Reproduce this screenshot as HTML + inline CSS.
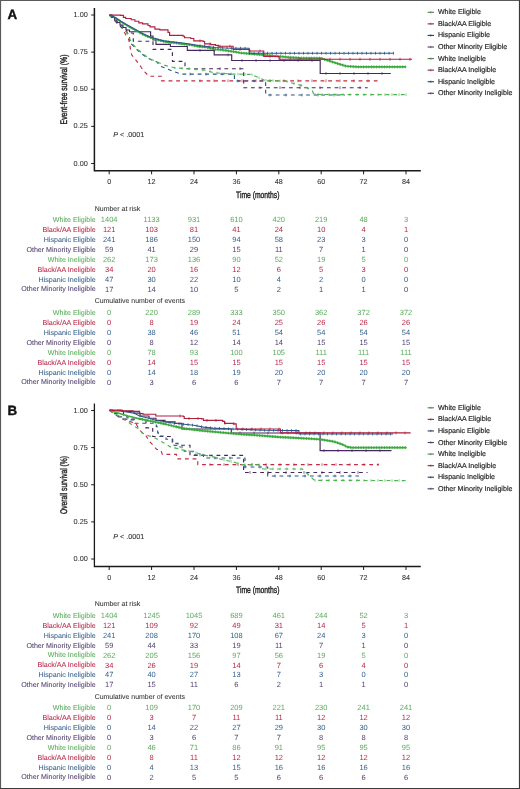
<!DOCTYPE html>
<html><head><meta charset="utf-8"><style>
html,body{margin:0;padding:0;background:#fff;}
svg{display:block;will-change:transform;filter:blur(0.3px);text-rendering:geometricPrecision;font-family:"Liberation Sans", sans-serif;}
</style></head><body>
<svg width="520" height="789" viewBox="0 0 520 789">
<rect x="0" y="0" width="520" height="789" fill="#fff"/>
<path d="M0.5,789V0.5H520" fill="none" stroke="#5a5a5a" stroke-width="1.2"/>
<path d="M0,788.5H519.5V0" fill="none" stroke="#3a3a3a" stroke-width="1.2"/>
<text x="7.6" y="18.80" font-size="13.4" font-weight="bold" fill="#111" stroke="#111" stroke-width="0.35">A</text>
<path d="M94.4,8.00V170.80H420.8" fill="none" stroke="#1a1a1a" stroke-width="1.5"/>
<path d="M91.2,163.50H94.4" stroke="#1a1a1a" stroke-width="1"/>
<text x="87.80" y="165.60" font-size="7.3" fill="#333" stroke="#333" stroke-width="0.06" text-anchor="end" >0.00</text>
<path d="M91.2,126.38H94.4" stroke="#1a1a1a" stroke-width="1"/>
<text x="87.80" y="128.47" font-size="7.3" fill="#333" stroke="#333" stroke-width="0.06" text-anchor="end" >0.25</text>
<path d="M91.2,89.25H94.4" stroke="#1a1a1a" stroke-width="1"/>
<text x="87.80" y="91.35" font-size="7.3" fill="#333" stroke="#333" stroke-width="0.06" text-anchor="end" >0.50</text>
<path d="M91.2,52.12H94.4" stroke="#1a1a1a" stroke-width="1"/>
<text x="87.80" y="54.23" font-size="7.3" fill="#333" stroke="#333" stroke-width="0.06" text-anchor="end" >0.75</text>
<path d="M91.2,15.00H94.4" stroke="#1a1a1a" stroke-width="1"/>
<text x="87.80" y="17.10" font-size="7.3" fill="#333" stroke="#333" stroke-width="0.06" text-anchor="end" >1.00</text>
<path d="M109.20,170.80V174.30" stroke="#1a1a1a" stroke-width="1"/>
<text x="109.20" y="184.20" font-size="7.2" fill="#333" stroke="#333" stroke-width="0.06" text-anchor="middle" >0</text>
<path d="M151.60,170.80V174.30" stroke="#1a1a1a" stroke-width="1"/>
<text x="151.60" y="184.20" font-size="7.2" fill="#333" stroke="#333" stroke-width="0.06" text-anchor="middle" >12</text>
<path d="M194.00,170.80V174.30" stroke="#1a1a1a" stroke-width="1"/>
<text x="194.00" y="184.20" font-size="7.2" fill="#333" stroke="#333" stroke-width="0.06" text-anchor="middle" >24</text>
<path d="M236.40,170.80V174.30" stroke="#1a1a1a" stroke-width="1"/>
<text x="236.40" y="184.20" font-size="7.2" fill="#333" stroke="#333" stroke-width="0.06" text-anchor="middle" >36</text>
<path d="M278.80,170.80V174.30" stroke="#1a1a1a" stroke-width="1"/>
<text x="278.80" y="184.20" font-size="7.2" fill="#333" stroke="#333" stroke-width="0.06" text-anchor="middle" >48</text>
<path d="M321.20,170.80V174.30" stroke="#1a1a1a" stroke-width="1"/>
<text x="321.20" y="184.20" font-size="7.2" fill="#333" stroke="#333" stroke-width="0.06" text-anchor="middle" >60</text>
<path d="M363.60,170.80V174.30" stroke="#1a1a1a" stroke-width="1"/>
<text x="363.60" y="184.20" font-size="7.2" fill="#333" stroke="#333" stroke-width="0.06" text-anchor="middle" >72</text>
<path d="M406.00,170.80V174.30" stroke="#1a1a1a" stroke-width="1"/>
<text x="406.00" y="184.20" font-size="7.2" fill="#333" stroke="#333" stroke-width="0.06" text-anchor="middle" >84</text>
<text transform="translate(257.7,197.90) scale(0.728,1)" font-size="9.3" fill="#222" stroke="#222" stroke-width="0.38" text-anchor="middle">Time (months)</text>
<text transform="translate(66.9,89.50) rotate(-90) scale(0.7210,1)" font-size="9.6" fill="#222" stroke="#222" stroke-width="0.38" text-anchor="middle">Event-free survival (%)</text>
<text x="113.2" y="136.60" font-size="7.2" fill="#333" stroke="#333" stroke-width="0.1"><tspan font-style="italic">P</tspan> &lt; .0001</text>
<path d="M109.50,15.00 L113.00,18.00 L116.00,21.00 L119.00,24.00 L121.50,27.00 L123.50,31.00 L126.00,35.00 L128.50,39.00 L129.80,44.00 L130.50,50.00 L131.80,55.00 L135.00,59.00 L138.50,63.40 L141.50,67.80 L145.00,72.20 L149.00,76.20 L161.50,76.20 L161.50,80.80 L378.50,80.80" fill="none" stroke="#c42a46" stroke-width="1.15" stroke-linejoin="round" stroke-dasharray="3.8,3.8"/>
<path d="M200.00,79.40V82.20M214.00,79.40V82.20M228.00,79.40V82.20M242.00,79.40V82.20M256.00,79.40V82.20M270.00,79.40V82.20M284.00,79.40V82.20M298.00,79.40V82.20M312.00,79.40V82.20M326.00,79.40V82.20M340.00,79.40V82.20M354.00,79.40V82.20M368.00,79.40V82.20" stroke="#c42a46" stroke-width="0.7" fill="none"/>
<path d="M109.50,15.00 L113.00,19.00 L117.00,23.00 L121.00,27.00 L126.50,29.00 L127.00,33.00 L133.30,33.00 L133.30,41.20 L153.00,41.20 L153.00,49.40 L172.40,49.40 L172.40,61.30 L185.00,61.30 L185.00,68.70 L243.70,68.70 L243.70,87.70 L367.70,87.70" fill="none" stroke="#48265f" stroke-width="1.15" stroke-linejoin="round" stroke-dasharray="3.8,3.8"/>
<path d="M220.00,67.30V70.10M240.00,67.30V70.10M260.00,86.30V89.10M280.00,86.30V89.10M300.00,86.30V89.10M320.00,86.30V89.10M340.00,86.30V89.10M360.00,86.30V89.10" stroke="#48265f" stroke-width="0.7" fill="none"/>
<path d="M109.50,15.00 L113.80,18.80 L117.60,22.70 L121.00,25.60 L124.00,29.00 L127.20,33.00 L129.50,35.00 L129.60,42.50 L133.50,46.00 L136.80,49.50 L141.70,53.80 L146.50,57.30 L151.30,59.80 L157.00,62.00 L160.00,66.00 L165.00,68.00 L172.00,71.00 L181.30,74.10 L234.40,74.10 L234.50,81.00 L265.60,81.00 L265.70,95.00 L345.00,95.00" fill="none" stroke="#2a568a" stroke-width="1.15" stroke-linejoin="round" stroke-dasharray="3.8,3.8"/>
<path d="M190.00,72.70V75.50M206.00,72.70V75.50M222.00,72.70V75.50M238.00,79.60V82.40M254.00,79.60V82.40M270.00,93.60V96.40M286.00,93.60V96.40M302.00,93.60V96.40M318.00,93.60V96.40M334.00,93.60V96.40" stroke="#2a568a" stroke-width="0.7" fill="none"/>
<path d="M109.50,15.00 L113.80,18.80 L117.60,22.70 L121.00,25.60 L124.00,29.00 L127.20,33.00 L130.00,39.50 L133.50,45.00 L136.80,48.50 L141.70,52.80 L146.50,56.50 L151.30,59.50 L157.50,62.00 L165.00,65.40 L174.80,67.90 L189.50,68.70 L205.80,70.30 L214.00,72.80 L233.60,74.10 L251.00,74.40 L264.60,80.20 L286.20,81.20 L290.80,82.70 L303.00,85.80 L312.30,90.40 L313.80,94.40 L340.00,94.60 L406.20,94.60" fill="none" stroke="#4cb44c" stroke-width="1.15" stroke-linejoin="round" stroke-dasharray="3.8,3.8"/>
<path d="M175.00,66.61V69.21M182.00,66.99V69.59M189.00,67.37V69.97M196.00,68.04V70.64M203.00,68.73V71.33M210.00,70.28V72.88M217.00,71.70V74.30M224.00,72.16V74.76M231.00,72.63V75.23M238.00,72.88V75.48M245.00,73.00V75.60M252.00,73.53V76.13M259.00,76.51V79.11M266.00,78.96V81.56M273.00,79.29V81.89M280.00,79.61V82.21M287.00,80.16V82.76M294.00,82.21V84.81M301.00,83.99V86.59M308.00,86.97V89.57M315.00,93.11V95.71M322.00,93.16V95.76M329.00,93.22V95.82M336.00,93.27V95.87M343.00,93.30V95.90M350.00,93.30V95.90M357.00,93.30V95.90M364.00,93.30V95.90M371.00,93.30V95.90M378.00,93.30V95.90M385.00,93.30V95.90M392.00,93.30V95.90M399.00,93.30V95.90M406.00,93.30V95.90" stroke="#4cb44c" stroke-width="0.7" fill="none"/>
<path d="M109.50,15.00H112.00V17.50H114.50V20.00H117.00V22.50H120.00V25.00H123.00V27.50H126.00V30.00H129.50V31.70H150.60V36.00H153.00V40.00H156.00V44.30H170.40V46.50H187.30V50.40H214.20V54.90H231.70V60.50H320.20V73.50H390.80V73.50" fill="none" stroke="#48265f" stroke-width="1.15"/>
<path d="M200.00,49.00V51.80M214.00,49.00V51.80M228.00,53.50V56.30M242.00,59.10V61.90M256.00,59.10V61.90M270.00,59.10V61.90M284.00,59.10V61.90M298.00,59.10V61.90M312.00,59.10V61.90M326.00,72.10V74.90M340.00,72.10V74.90M354.00,72.10V74.90M368.00,72.10V74.90M382.00,72.10V74.90" stroke="#48265f" stroke-width="0.7" fill="none"/>
<path d="M109.50,15.00 L112.00,16.00 L115.80,18.00 L121.20,21.90 L126.50,25.20 L131.10,28.00 L137.30,31.30 L142.70,34.30 L148.10,36.70 L153.50,38.60 L158.80,40.20 L164.20,41.50 L169.60,42.30 L175.40,42.90 L182.70,44.00 L190.80,44.90 L199.00,46.60 L206.20,47.20 L215.40,49.30 L221.50,49.90 L235.00,51.80 L240.00,52.80 L262.50,54.80 L290.00,57.30 L300.00,58.00 L320.80,58.20 L334.60,62.70 L346.20,66.20 L357.70,66.90 L406.20,66.90" fill="none" stroke="#3fb03f" stroke-width="1.8" stroke-linejoin="round"/>
<path d="M140.00,31.30V34.30M142.60,32.74V35.74M145.20,33.91V36.91M147.80,35.07V38.07M150.40,36.01V39.01M153.00,36.92V39.92M155.60,37.73V40.73M158.20,38.52V41.52M160.80,39.18V42.18M163.40,39.81V42.81M166.00,40.27V43.27M168.60,40.65V43.65M171.20,40.97V43.97M173.80,41.23V44.23M176.40,41.55V44.55M179.00,41.94V44.94M181.60,42.33V45.33M184.20,42.67V45.67M186.80,42.96V45.96M189.40,43.24V46.24M192.00,43.65V46.65M194.60,44.19V47.19M197.20,44.73V47.73M199.80,45.17V48.17M202.40,45.38V48.38M205.00,45.60V48.60M207.60,46.02V49.02M210.20,46.61V49.61M212.80,47.21V50.21M215.40,47.80V50.80M218.00,48.06V51.06M220.60,48.31V51.31M223.20,48.64V51.64M225.80,49.01V52.01M228.40,49.37V52.37M231.00,49.74V52.74M233.60,50.10V53.10M236.20,50.54V53.54M238.80,51.06V54.06M241.40,51.42V54.42M244.00,51.66V54.66M246.60,51.89V54.89M249.20,52.12V55.12M251.80,52.35V55.35M254.40,52.58V55.58M257.00,52.81V55.81M259.60,53.04V56.04M262.20,53.27V56.27M264.80,53.51V56.51M267.40,53.75V56.75M270.00,53.98V56.98M272.60,54.22V57.22M275.20,54.45V57.45M277.80,54.69V57.69M280.40,54.93V57.93M283.00,55.16V58.16M285.60,55.40V58.40M288.20,55.64V58.64M290.80,55.86V58.86M293.40,56.04V59.04M296.00,56.22V59.22M298.60,56.40V59.40M301.20,56.51V59.51M303.80,56.54V59.54M306.40,56.56V59.56M309.00,56.59V59.59M311.60,56.61V59.61M314.20,56.64V59.64M316.80,56.66V59.66M319.40,56.69V59.69M322.00,57.09V60.09M324.60,57.94V60.94M327.20,58.79V61.79M329.80,59.63V62.63M332.40,60.48V63.48M335.00,61.32V64.32M337.60,62.11V65.11M340.20,62.89V65.89M342.80,63.67V66.67M345.40,64.46V67.46M348.00,64.81V67.81M350.60,64.97V67.97M353.20,65.13V68.13M355.80,65.28V68.28M358.40,65.40V68.40M361.00,65.40V68.40M363.60,65.40V68.40M366.20,65.40V68.40M368.80,65.40V68.40M371.40,65.40V68.40M374.00,65.40V68.40M376.60,65.40V68.40M379.20,65.40V68.40M381.80,65.40V68.40M384.40,65.40V68.40M387.00,65.40V68.40M389.60,65.40V68.40M392.20,65.40V68.40M394.80,65.40V68.40M397.40,65.40V68.40M400.00,65.40V68.40M402.60,65.40V68.40M405.20,65.40V68.40" stroke="#36a03a" stroke-width="0.8" fill="none"/>
<path d="M109.50,15.00 L115.00,17.50 L121.00,21.30 L126.50,24.60 L132.00,27.50 L137.30,30.50 L142.70,33.50 L148.10,36.00 L153.50,38.00 L158.80,39.60 L164.20,40.80 L170.00,41.60 L182.70,43.00 L199.00,45.50 L215.40,47.50 L230.80,48.20 L249.20,48.20 L249.30,53.20 L393.80,53.20" fill="none" stroke="#2a568a" stroke-width="1.15" stroke-linejoin="round"/>
<path d="M200.00,44.22V47.02M204.50,44.77V47.57M209.00,45.32V48.12M213.50,45.87V48.67M218.00,46.22V49.02M222.50,46.42V49.22M227.00,46.63V49.43M231.50,46.80V49.60M236.00,46.80V49.60M240.50,46.80V49.60M245.00,46.80V49.60M249.50,51.80V54.60M254.00,51.80V54.60M258.50,51.80V54.60M263.00,51.80V54.60M267.50,51.80V54.60M272.00,51.80V54.60M276.50,51.80V54.60M281.00,51.80V54.60M285.50,51.80V54.60M290.00,51.80V54.60M294.50,51.80V54.60M299.00,51.80V54.60M303.50,51.80V54.60M308.00,51.80V54.60M312.50,51.80V54.60M317.00,51.80V54.60M321.50,51.80V54.60M326.00,51.80V54.60M330.50,51.80V54.60M335.00,51.80V54.60M339.50,51.80V54.60M344.00,51.80V54.60M348.50,51.80V54.60M353.00,51.80V54.60M357.50,51.80V54.60M362.00,51.80V54.60M366.50,51.80V54.60M371.00,51.80V54.60M375.50,51.80V54.60M380.00,51.80V54.60M384.50,51.80V54.60M389.00,51.80V54.60M393.50,51.80V54.60" stroke="#2a568a" stroke-width="0.8" fill="none"/>
<path d="M109.50,15.10H120.50V15.40H123.40V17.40H125.70V18.50H131.10V19.70H134.90V21.20H138.80V22.80H142.60V23.90H148.00V25.50H150.00V26.80H154.90V29.10H159.80V29.90H168.00V32.40H169.60V35.40H183.10V36.20H184.60V37.70H190.80V38.50H193.80V40.80H203.10V41.50H204.60V43.80H210.80V44.60H215.40V45.40H218.50V46.20H233.00V46.20H233.10V49.50H249.20V49.50H249.30V51.00H263.60V51.00H263.70V56.50H279.00V56.50H279.10V59.20H412.00V59.20" fill="none" stroke="#b01f3e" stroke-width="1.15"/>
<path d="M200.00,39.40V42.20M210.00,42.40V45.20M220.00,44.80V47.60M230.00,44.80V47.60M240.00,48.10V50.90M250.00,49.60V52.40M260.00,49.60V52.40M270.00,55.10V57.90M280.00,57.80V60.60M290.00,57.80V60.60M300.00,57.80V60.60M310.00,57.80V60.60M320.00,57.80V60.60M330.00,57.80V60.60M340.00,57.80V60.60M350.00,57.80V60.60M360.00,57.80V60.60M370.00,57.80V60.60M380.00,57.80V60.60M390.00,57.80V60.60M400.00,57.80V60.60M410.00,57.80V60.60" stroke="#b01f3e" stroke-width="0.8" fill="none"/>
<path d="M427.6,12.30H434" stroke="#4f7f4f" stroke-width="1.1"/><path d="M430.8,11.10V13.50" stroke="#4f7f4f" stroke-width="0.6"/>
<text x="437.90" y="14.30" font-size="7.1" fill="#222" stroke="#222" stroke-width="0.16" text-anchor="start" >White Eligible</text>
<path d="M427.6,23.87H434" stroke="#8a2a45" stroke-width="1.1"/><path d="M430.8,22.67V25.07" stroke="#8a2a45" stroke-width="0.6"/>
<text x="437.90" y="25.87" font-size="7.1" fill="#222" stroke="#222" stroke-width="0.16" text-anchor="start" >Black/AA Eligible</text>
<path d="M427.6,35.44H434" stroke="#2a3f5f" stroke-width="1.1"/><path d="M430.8,34.24V36.64" stroke="#2a3f5f" stroke-width="0.6"/>
<text x="437.90" y="37.44" font-size="7.1" fill="#222" stroke="#222" stroke-width="0.16" text-anchor="start" >Hispanic Eligible</text>
<path d="M427.6,47.01H434" stroke="#523a68" stroke-width="1.1"/><path d="M430.8,45.81V48.21" stroke="#523a68" stroke-width="0.6"/>
<text x="437.90" y="49.01" font-size="7.1" fill="#222" stroke="#222" stroke-width="0.16" text-anchor="start" >Other Minority Eligible</text>
<path d="M427.6,58.58H434" stroke="#4f7f4f" stroke-width="1.1"/><path d="M430.8,57.38V59.78" stroke="#4f7f4f" stroke-width="0.6"/>
<text x="437.90" y="60.58" font-size="7.1" fill="#222" stroke="#222" stroke-width="0.16" text-anchor="start" >White Ineligible</text>
<path d="M427.6,70.15H434" stroke="#8a2a45" stroke-width="1.1"/><path d="M430.8,68.95V71.35" stroke="#8a2a45" stroke-width="0.6"/>
<text x="437.90" y="72.15" font-size="7.1" fill="#222" stroke="#222" stroke-width="0.16" text-anchor="start" >Black/AA Ineligible</text>
<path d="M427.6,81.72H434" stroke="#2a3f5f" stroke-width="1.1"/><path d="M430.8,80.52V82.92" stroke="#2a3f5f" stroke-width="0.6"/>
<text x="437.90" y="83.72" font-size="7.1" fill="#222" stroke="#222" stroke-width="0.16" text-anchor="start" >Hispanic Ineligible</text>
<path d="M427.6,93.29H434" stroke="#523a68" stroke-width="1.1"/><path d="M430.8,92.09V94.49" stroke="#523a68" stroke-width="0.6"/>
<text x="437.90" y="95.29" font-size="7.1" fill="#222" stroke="#222" stroke-width="0.16" text-anchor="start" >Other Minority Ineligible</text>
<text x="94.70" y="210.70" font-size="7.0" fill="#333" stroke="#333" stroke-width="0.06" text-anchor="start" >Number at risk</text>
<text x="95.80" y="222.30" font-size="7.1" fill="#5aab5a" stroke="#5aab5a" stroke-width="0.06" text-anchor="end" >White Eligible</text>
<text x="109.20" y="222.45" font-size="7.5" fill="#5aab5a" stroke="#5aab5a" stroke-width="0" text-anchor="middle" >1404</text>
<text x="151.60" y="222.45" font-size="7.5" fill="#5aab5a" stroke="#5aab5a" stroke-width="0" text-anchor="middle" >1133</text>
<text x="194.00" y="222.45" font-size="7.5" fill="#5aab5a" stroke="#5aab5a" stroke-width="0" text-anchor="middle" >931</text>
<text x="236.40" y="222.45" font-size="7.5" fill="#5aab5a" stroke="#5aab5a" stroke-width="0" text-anchor="middle" >610</text>
<text x="278.80" y="222.45" font-size="7.5" fill="#5aab5a" stroke="#5aab5a" stroke-width="0" text-anchor="middle" >420</text>
<text x="321.20" y="222.45" font-size="7.5" fill="#5aab5a" stroke="#5aab5a" stroke-width="0" text-anchor="middle" >219</text>
<text x="363.60" y="222.45" font-size="7.5" fill="#5aab5a" stroke="#5aab5a" stroke-width="0" text-anchor="middle" >48</text>
<text x="406.00" y="222.45" font-size="7.5" fill="#5aab5a" stroke="#5aab5a" stroke-width="0" text-anchor="middle" >3</text>
<text x="95.80" y="232.17" font-size="7.1" fill="#b92648" stroke="#b92648" stroke-width="0.06" text-anchor="end" >Black/AA Eligible</text>
<text x="109.20" y="232.32" font-size="7.5" fill="#b92648" stroke="#b92648" stroke-width="0" text-anchor="middle" >121</text>
<text x="151.60" y="232.32" font-size="7.5" fill="#b92648" stroke="#b92648" stroke-width="0" text-anchor="middle" >103</text>
<text x="194.00" y="232.32" font-size="7.5" fill="#b92648" stroke="#b92648" stroke-width="0" text-anchor="middle" >81</text>
<text x="236.40" y="232.32" font-size="7.5" fill="#b92648" stroke="#b92648" stroke-width="0" text-anchor="middle" >41</text>
<text x="278.80" y="232.32" font-size="7.5" fill="#b92648" stroke="#b92648" stroke-width="0" text-anchor="middle" >24</text>
<text x="321.20" y="232.32" font-size="7.5" fill="#b92648" stroke="#b92648" stroke-width="0" text-anchor="middle" >10</text>
<text x="363.60" y="232.32" font-size="7.5" fill="#b92648" stroke="#b92648" stroke-width="0" text-anchor="middle" >4</text>
<text x="406.00" y="232.32" font-size="7.5" fill="#b92648" stroke="#b92648" stroke-width="0" text-anchor="middle" >1</text>
<text x="95.80" y="242.04" font-size="7.1" fill="#345e8c" stroke="#345e8c" stroke-width="0.06" text-anchor="end" >Hispanic Eligible</text>
<text x="109.20" y="242.19" font-size="7.5" fill="#345e8c" stroke="#345e8c" stroke-width="0" text-anchor="middle" >241</text>
<text x="151.60" y="242.19" font-size="7.5" fill="#345e8c" stroke="#345e8c" stroke-width="0" text-anchor="middle" >186</text>
<text x="194.00" y="242.19" font-size="7.5" fill="#345e8c" stroke="#345e8c" stroke-width="0" text-anchor="middle" >150</text>
<text x="236.40" y="242.19" font-size="7.5" fill="#345e8c" stroke="#345e8c" stroke-width="0" text-anchor="middle" >94</text>
<text x="278.80" y="242.19" font-size="7.5" fill="#345e8c" stroke="#345e8c" stroke-width="0" text-anchor="middle" >58</text>
<text x="321.20" y="242.19" font-size="7.5" fill="#345e8c" stroke="#345e8c" stroke-width="0" text-anchor="middle" >23</text>
<text x="363.60" y="242.19" font-size="7.5" fill="#345e8c" stroke="#345e8c" stroke-width="0" text-anchor="middle" >3</text>
<text x="406.00" y="242.19" font-size="7.5" fill="#345e8c" stroke="#345e8c" stroke-width="0" text-anchor="middle" >0</text>
<text x="95.80" y="251.91" font-size="7.1" fill="#51406f" stroke="#51406f" stroke-width="0.06" text-anchor="end" >Other Minority Eligible</text>
<text x="109.20" y="252.06" font-size="7.5" fill="#51406f" stroke="#51406f" stroke-width="0" text-anchor="middle" >59</text>
<text x="151.60" y="252.06" font-size="7.5" fill="#51406f" stroke="#51406f" stroke-width="0" text-anchor="middle" >41</text>
<text x="194.00" y="252.06" font-size="7.5" fill="#51406f" stroke="#51406f" stroke-width="0" text-anchor="middle" >29</text>
<text x="236.40" y="252.06" font-size="7.5" fill="#51406f" stroke="#51406f" stroke-width="0" text-anchor="middle" >15</text>
<text x="278.80" y="252.06" font-size="7.5" fill="#51406f" stroke="#51406f" stroke-width="0" text-anchor="middle" >11</text>
<text x="321.20" y="252.06" font-size="7.5" fill="#51406f" stroke="#51406f" stroke-width="0" text-anchor="middle" >7</text>
<text x="363.60" y="252.06" font-size="7.5" fill="#51406f" stroke="#51406f" stroke-width="0" text-anchor="middle" >1</text>
<text x="406.00" y="252.06" font-size="7.5" fill="#51406f" stroke="#51406f" stroke-width="0" text-anchor="middle" >0</text>
<text x="95.80" y="261.78" font-size="7.1" fill="#5aab5a" stroke="#5aab5a" stroke-width="0.06" text-anchor="end" >White Ineligible</text>
<text x="109.20" y="261.93" font-size="7.5" fill="#5aab5a" stroke="#5aab5a" stroke-width="0" text-anchor="middle" >262</text>
<text x="151.60" y="261.93" font-size="7.5" fill="#5aab5a" stroke="#5aab5a" stroke-width="0" text-anchor="middle" >173</text>
<text x="194.00" y="261.93" font-size="7.5" fill="#5aab5a" stroke="#5aab5a" stroke-width="0" text-anchor="middle" >136</text>
<text x="236.40" y="261.93" font-size="7.5" fill="#5aab5a" stroke="#5aab5a" stroke-width="0" text-anchor="middle" >90</text>
<text x="278.80" y="261.93" font-size="7.5" fill="#5aab5a" stroke="#5aab5a" stroke-width="0" text-anchor="middle" >52</text>
<text x="321.20" y="261.93" font-size="7.5" fill="#5aab5a" stroke="#5aab5a" stroke-width="0" text-anchor="middle" >19</text>
<text x="363.60" y="261.93" font-size="7.5" fill="#5aab5a" stroke="#5aab5a" stroke-width="0" text-anchor="middle" >5</text>
<text x="406.00" y="261.93" font-size="7.5" fill="#5aab5a" stroke="#5aab5a" stroke-width="0" text-anchor="middle" >0</text>
<text x="95.80" y="271.65" font-size="7.1" fill="#b92648" stroke="#b92648" stroke-width="0.06" text-anchor="end" >Black/AA Ineligible</text>
<text x="109.20" y="271.80" font-size="7.5" fill="#b92648" stroke="#b92648" stroke-width="0" text-anchor="middle" >34</text>
<text x="151.60" y="271.80" font-size="7.5" fill="#b92648" stroke="#b92648" stroke-width="0" text-anchor="middle" >20</text>
<text x="194.00" y="271.80" font-size="7.5" fill="#b92648" stroke="#b92648" stroke-width="0" text-anchor="middle" >16</text>
<text x="236.40" y="271.80" font-size="7.5" fill="#b92648" stroke="#b92648" stroke-width="0" text-anchor="middle" >12</text>
<text x="278.80" y="271.80" font-size="7.5" fill="#b92648" stroke="#b92648" stroke-width="0" text-anchor="middle" >6</text>
<text x="321.20" y="271.80" font-size="7.5" fill="#b92648" stroke="#b92648" stroke-width="0" text-anchor="middle" >5</text>
<text x="363.60" y="271.80" font-size="7.5" fill="#b92648" stroke="#b92648" stroke-width="0" text-anchor="middle" >3</text>
<text x="406.00" y="271.80" font-size="7.5" fill="#b92648" stroke="#b92648" stroke-width="0" text-anchor="middle" >0</text>
<text x="95.80" y="281.52" font-size="7.1" fill="#345e8c" stroke="#345e8c" stroke-width="0.06" text-anchor="end" >Hispanic Ineligible</text>
<text x="109.20" y="281.67" font-size="7.5" fill="#345e8c" stroke="#345e8c" stroke-width="0" text-anchor="middle" >47</text>
<text x="151.60" y="281.67" font-size="7.5" fill="#345e8c" stroke="#345e8c" stroke-width="0" text-anchor="middle" >30</text>
<text x="194.00" y="281.67" font-size="7.5" fill="#345e8c" stroke="#345e8c" stroke-width="0" text-anchor="middle" >22</text>
<text x="236.40" y="281.67" font-size="7.5" fill="#345e8c" stroke="#345e8c" stroke-width="0" text-anchor="middle" >10</text>
<text x="278.80" y="281.67" font-size="7.5" fill="#345e8c" stroke="#345e8c" stroke-width="0" text-anchor="middle" >4</text>
<text x="321.20" y="281.67" font-size="7.5" fill="#345e8c" stroke="#345e8c" stroke-width="0" text-anchor="middle" >2</text>
<text x="363.60" y="281.67" font-size="7.5" fill="#345e8c" stroke="#345e8c" stroke-width="0" text-anchor="middle" >0</text>
<text x="406.00" y="281.67" font-size="7.5" fill="#345e8c" stroke="#345e8c" stroke-width="0" text-anchor="middle" >0</text>
<text x="95.80" y="291.39" font-size="7.1" fill="#51406f" stroke="#51406f" stroke-width="0.06" text-anchor="end" >Other Minority Ineligible</text>
<text x="109.20" y="291.54" font-size="7.5" fill="#51406f" stroke="#51406f" stroke-width="0" text-anchor="middle" >17</text>
<text x="151.60" y="291.54" font-size="7.5" fill="#51406f" stroke="#51406f" stroke-width="0" text-anchor="middle" >14</text>
<text x="194.00" y="291.54" font-size="7.5" fill="#51406f" stroke="#51406f" stroke-width="0" text-anchor="middle" >10</text>
<text x="236.40" y="291.54" font-size="7.5" fill="#51406f" stroke="#51406f" stroke-width="0" text-anchor="middle" >5</text>
<text x="278.80" y="291.54" font-size="7.5" fill="#51406f" stroke="#51406f" stroke-width="0" text-anchor="middle" >2</text>
<text x="321.20" y="291.54" font-size="7.5" fill="#51406f" stroke="#51406f" stroke-width="0" text-anchor="middle" >1</text>
<text x="363.60" y="291.54" font-size="7.5" fill="#51406f" stroke="#51406f" stroke-width="0" text-anchor="middle" >1</text>
<text x="406.00" y="291.54" font-size="7.5" fill="#51406f" stroke="#51406f" stroke-width="0" text-anchor="middle" >0</text>
<text x="94.70" y="303.10" font-size="6.95" fill="#333" stroke="#333" stroke-width="0.06" text-anchor="start" >Cumulative number of events</text>
<text x="95.80" y="315.30" font-size="7.1" fill="#5aab5a" stroke="#5aab5a" stroke-width="0.06" text-anchor="end" >White Eligible</text>
<text x="109.20" y="315.45" font-size="7.5" fill="#5aab5a" stroke="#5aab5a" stroke-width="0" text-anchor="middle" >0</text>
<text x="151.60" y="315.45" font-size="7.5" fill="#5aab5a" stroke="#5aab5a" stroke-width="0" text-anchor="middle" >220</text>
<text x="194.00" y="315.45" font-size="7.5" fill="#5aab5a" stroke="#5aab5a" stroke-width="0" text-anchor="middle" >289</text>
<text x="236.40" y="315.45" font-size="7.5" fill="#5aab5a" stroke="#5aab5a" stroke-width="0" text-anchor="middle" >333</text>
<text x="278.80" y="315.45" font-size="7.5" fill="#5aab5a" stroke="#5aab5a" stroke-width="0" text-anchor="middle" >350</text>
<text x="321.20" y="315.45" font-size="7.5" fill="#5aab5a" stroke="#5aab5a" stroke-width="0" text-anchor="middle" >362</text>
<text x="363.60" y="315.45" font-size="7.5" fill="#5aab5a" stroke="#5aab5a" stroke-width="0" text-anchor="middle" >372</text>
<text x="406.00" y="315.45" font-size="7.5" fill="#5aab5a" stroke="#5aab5a" stroke-width="0" text-anchor="middle" >372</text>
<text x="95.80" y="325.17" font-size="7.1" fill="#b92648" stroke="#b92648" stroke-width="0.06" text-anchor="end" >Black/AA Eligible</text>
<text x="109.20" y="325.32" font-size="7.5" fill="#b92648" stroke="#b92648" stroke-width="0" text-anchor="middle" >0</text>
<text x="151.60" y="325.32" font-size="7.5" fill="#b92648" stroke="#b92648" stroke-width="0" text-anchor="middle" >8</text>
<text x="194.00" y="325.32" font-size="7.5" fill="#b92648" stroke="#b92648" stroke-width="0" text-anchor="middle" >19</text>
<text x="236.40" y="325.32" font-size="7.5" fill="#b92648" stroke="#b92648" stroke-width="0" text-anchor="middle" >24</text>
<text x="278.80" y="325.32" font-size="7.5" fill="#b92648" stroke="#b92648" stroke-width="0" text-anchor="middle" >25</text>
<text x="321.20" y="325.32" font-size="7.5" fill="#b92648" stroke="#b92648" stroke-width="0" text-anchor="middle" >26</text>
<text x="363.60" y="325.32" font-size="7.5" fill="#b92648" stroke="#b92648" stroke-width="0" text-anchor="middle" >26</text>
<text x="406.00" y="325.32" font-size="7.5" fill="#b92648" stroke="#b92648" stroke-width="0" text-anchor="middle" >26</text>
<text x="95.80" y="335.04" font-size="7.1" fill="#345e8c" stroke="#345e8c" stroke-width="0.06" text-anchor="end" >Hispanic Eligible</text>
<text x="109.20" y="335.19" font-size="7.5" fill="#345e8c" stroke="#345e8c" stroke-width="0" text-anchor="middle" >0</text>
<text x="151.60" y="335.19" font-size="7.5" fill="#345e8c" stroke="#345e8c" stroke-width="0" text-anchor="middle" >38</text>
<text x="194.00" y="335.19" font-size="7.5" fill="#345e8c" stroke="#345e8c" stroke-width="0" text-anchor="middle" >46</text>
<text x="236.40" y="335.19" font-size="7.5" fill="#345e8c" stroke="#345e8c" stroke-width="0" text-anchor="middle" >51</text>
<text x="278.80" y="335.19" font-size="7.5" fill="#345e8c" stroke="#345e8c" stroke-width="0" text-anchor="middle" >54</text>
<text x="321.20" y="335.19" font-size="7.5" fill="#345e8c" stroke="#345e8c" stroke-width="0" text-anchor="middle" >54</text>
<text x="363.60" y="335.19" font-size="7.5" fill="#345e8c" stroke="#345e8c" stroke-width="0" text-anchor="middle" >54</text>
<text x="406.00" y="335.19" font-size="7.5" fill="#345e8c" stroke="#345e8c" stroke-width="0" text-anchor="middle" >54</text>
<text x="95.80" y="344.91" font-size="7.1" fill="#51406f" stroke="#51406f" stroke-width="0.06" text-anchor="end" >Other Minority Eligible</text>
<text x="109.20" y="345.06" font-size="7.5" fill="#51406f" stroke="#51406f" stroke-width="0" text-anchor="middle" >0</text>
<text x="151.60" y="345.06" font-size="7.5" fill="#51406f" stroke="#51406f" stroke-width="0" text-anchor="middle" >8</text>
<text x="194.00" y="345.06" font-size="7.5" fill="#51406f" stroke="#51406f" stroke-width="0" text-anchor="middle" >12</text>
<text x="236.40" y="345.06" font-size="7.5" fill="#51406f" stroke="#51406f" stroke-width="0" text-anchor="middle" >14</text>
<text x="278.80" y="345.06" font-size="7.5" fill="#51406f" stroke="#51406f" stroke-width="0" text-anchor="middle" >14</text>
<text x="321.20" y="345.06" font-size="7.5" fill="#51406f" stroke="#51406f" stroke-width="0" text-anchor="middle" >15</text>
<text x="363.60" y="345.06" font-size="7.5" fill="#51406f" stroke="#51406f" stroke-width="0" text-anchor="middle" >15</text>
<text x="406.00" y="345.06" font-size="7.5" fill="#51406f" stroke="#51406f" stroke-width="0" text-anchor="middle" >15</text>
<text x="95.80" y="354.78" font-size="7.1" fill="#5aab5a" stroke="#5aab5a" stroke-width="0.06" text-anchor="end" >White Ineligible</text>
<text x="109.20" y="354.93" font-size="7.5" fill="#5aab5a" stroke="#5aab5a" stroke-width="0" text-anchor="middle" >0</text>
<text x="151.60" y="354.93" font-size="7.5" fill="#5aab5a" stroke="#5aab5a" stroke-width="0" text-anchor="middle" >78</text>
<text x="194.00" y="354.93" font-size="7.5" fill="#5aab5a" stroke="#5aab5a" stroke-width="0" text-anchor="middle" >93</text>
<text x="236.40" y="354.93" font-size="7.5" fill="#5aab5a" stroke="#5aab5a" stroke-width="0" text-anchor="middle" >100</text>
<text x="278.80" y="354.93" font-size="7.5" fill="#5aab5a" stroke="#5aab5a" stroke-width="0" text-anchor="middle" >105</text>
<text x="321.20" y="354.93" font-size="7.5" fill="#5aab5a" stroke="#5aab5a" stroke-width="0" text-anchor="middle" >111</text>
<text x="363.60" y="354.93" font-size="7.5" fill="#5aab5a" stroke="#5aab5a" stroke-width="0" text-anchor="middle" >111</text>
<text x="406.00" y="354.93" font-size="7.5" fill="#5aab5a" stroke="#5aab5a" stroke-width="0" text-anchor="middle" >111</text>
<text x="95.80" y="364.65" font-size="7.1" fill="#b92648" stroke="#b92648" stroke-width="0.06" text-anchor="end" >Black/AA Ineligible</text>
<text x="109.20" y="364.80" font-size="7.5" fill="#b92648" stroke="#b92648" stroke-width="0" text-anchor="middle" >0</text>
<text x="151.60" y="364.80" font-size="7.5" fill="#b92648" stroke="#b92648" stroke-width="0" text-anchor="middle" >14</text>
<text x="194.00" y="364.80" font-size="7.5" fill="#b92648" stroke="#b92648" stroke-width="0" text-anchor="middle" >15</text>
<text x="236.40" y="364.80" font-size="7.5" fill="#b92648" stroke="#b92648" stroke-width="0" text-anchor="middle" >15</text>
<text x="278.80" y="364.80" font-size="7.5" fill="#b92648" stroke="#b92648" stroke-width="0" text-anchor="middle" >15</text>
<text x="321.20" y="364.80" font-size="7.5" fill="#b92648" stroke="#b92648" stroke-width="0" text-anchor="middle" >15</text>
<text x="363.60" y="364.80" font-size="7.5" fill="#b92648" stroke="#b92648" stroke-width="0" text-anchor="middle" >15</text>
<text x="406.00" y="364.80" font-size="7.5" fill="#b92648" stroke="#b92648" stroke-width="0" text-anchor="middle" >15</text>
<text x="95.80" y="374.52" font-size="7.1" fill="#345e8c" stroke="#345e8c" stroke-width="0.06" text-anchor="end" >Hispanic Ineligible</text>
<text x="109.20" y="374.67" font-size="7.5" fill="#345e8c" stroke="#345e8c" stroke-width="0" text-anchor="middle" >0</text>
<text x="151.60" y="374.67" font-size="7.5" fill="#345e8c" stroke="#345e8c" stroke-width="0" text-anchor="middle" >14</text>
<text x="194.00" y="374.67" font-size="7.5" fill="#345e8c" stroke="#345e8c" stroke-width="0" text-anchor="middle" >18</text>
<text x="236.40" y="374.67" font-size="7.5" fill="#345e8c" stroke="#345e8c" stroke-width="0" text-anchor="middle" >19</text>
<text x="278.80" y="374.67" font-size="7.5" fill="#345e8c" stroke="#345e8c" stroke-width="0" text-anchor="middle" >20</text>
<text x="321.20" y="374.67" font-size="7.5" fill="#345e8c" stroke="#345e8c" stroke-width="0" text-anchor="middle" >20</text>
<text x="363.60" y="374.67" font-size="7.5" fill="#345e8c" stroke="#345e8c" stroke-width="0" text-anchor="middle" >20</text>
<text x="406.00" y="374.67" font-size="7.5" fill="#345e8c" stroke="#345e8c" stroke-width="0" text-anchor="middle" >20</text>
<text x="95.80" y="384.39" font-size="7.1" fill="#51406f" stroke="#51406f" stroke-width="0.06" text-anchor="end" >Other Minority Ineligible</text>
<text x="109.20" y="384.54" font-size="7.5" fill="#51406f" stroke="#51406f" stroke-width="0" text-anchor="middle" >0</text>
<text x="151.60" y="384.54" font-size="7.5" fill="#51406f" stroke="#51406f" stroke-width="0" text-anchor="middle" >3</text>
<text x="194.00" y="384.54" font-size="7.5" fill="#51406f" stroke="#51406f" stroke-width="0" text-anchor="middle" >6</text>
<text x="236.40" y="384.54" font-size="7.5" fill="#51406f" stroke="#51406f" stroke-width="0" text-anchor="middle" >6</text>
<text x="278.80" y="384.54" font-size="7.5" fill="#51406f" stroke="#51406f" stroke-width="0" text-anchor="middle" >7</text>
<text x="321.20" y="384.54" font-size="7.5" fill="#51406f" stroke="#51406f" stroke-width="0" text-anchor="middle" >7</text>
<text x="363.60" y="384.54" font-size="7.5" fill="#51406f" stroke="#51406f" stroke-width="0" text-anchor="middle" >7</text>
<text x="406.00" y="384.54" font-size="7.5" fill="#51406f" stroke="#51406f" stroke-width="0" text-anchor="middle" >7</text>
<text x="7.6" y="414.80" font-size="13.4" font-weight="bold" fill="#111" stroke="#111" stroke-width="0.35">B</text>
<path d="M94.4,403.50V566.50H420.8" fill="none" stroke="#1a1a1a" stroke-width="1.3"/>
<path d="M91.2,559.00H94.4" stroke="#1a1a1a" stroke-width="1"/>
<text x="87.80" y="561.10" font-size="7.3" fill="#333" stroke="#333" stroke-width="0.06" text-anchor="end" >0.00</text>
<path d="M91.2,521.88H94.4" stroke="#1a1a1a" stroke-width="1"/>
<text x="87.80" y="523.98" font-size="7.3" fill="#333" stroke="#333" stroke-width="0.06" text-anchor="end" >0.25</text>
<path d="M91.2,484.75H94.4" stroke="#1a1a1a" stroke-width="1"/>
<text x="87.80" y="486.85" font-size="7.3" fill="#333" stroke="#333" stroke-width="0.06" text-anchor="end" >0.50</text>
<path d="M91.2,447.62H94.4" stroke="#1a1a1a" stroke-width="1"/>
<text x="87.80" y="449.73" font-size="7.3" fill="#333" stroke="#333" stroke-width="0.06" text-anchor="end" >0.75</text>
<path d="M91.2,410.50H94.4" stroke="#1a1a1a" stroke-width="1"/>
<text x="87.80" y="412.60" font-size="7.3" fill="#333" stroke="#333" stroke-width="0.06" text-anchor="end" >1.00</text>
<path d="M109.20,566.50V570.00" stroke="#1a1a1a" stroke-width="1"/>
<text x="109.20" y="579.70" font-size="7.2" fill="#333" stroke="#333" stroke-width="0.06" text-anchor="middle" >0</text>
<path d="M151.60,566.50V570.00" stroke="#1a1a1a" stroke-width="1"/>
<text x="151.60" y="579.70" font-size="7.2" fill="#333" stroke="#333" stroke-width="0.06" text-anchor="middle" >12</text>
<path d="M194.00,566.50V570.00" stroke="#1a1a1a" stroke-width="1"/>
<text x="194.00" y="579.70" font-size="7.2" fill="#333" stroke="#333" stroke-width="0.06" text-anchor="middle" >24</text>
<path d="M236.40,566.50V570.00" stroke="#1a1a1a" stroke-width="1"/>
<text x="236.40" y="579.70" font-size="7.2" fill="#333" stroke="#333" stroke-width="0.06" text-anchor="middle" >36</text>
<path d="M278.80,566.50V570.00" stroke="#1a1a1a" stroke-width="1"/>
<text x="278.80" y="579.70" font-size="7.2" fill="#333" stroke="#333" stroke-width="0.06" text-anchor="middle" >48</text>
<path d="M321.20,566.50V570.00" stroke="#1a1a1a" stroke-width="1"/>
<text x="321.20" y="579.70" font-size="7.2" fill="#333" stroke="#333" stroke-width="0.06" text-anchor="middle" >60</text>
<path d="M363.60,566.50V570.00" stroke="#1a1a1a" stroke-width="1"/>
<text x="363.60" y="579.70" font-size="7.2" fill="#333" stroke="#333" stroke-width="0.06" text-anchor="middle" >72</text>
<path d="M406.00,566.50V570.00" stroke="#1a1a1a" stroke-width="1"/>
<text x="406.00" y="579.70" font-size="7.2" fill="#333" stroke="#333" stroke-width="0.06" text-anchor="middle" >84</text>
<text transform="translate(257.7,593.40) scale(0.728,1)" font-size="9.3" fill="#222" stroke="#222" stroke-width="0.38" text-anchor="middle">Time (months)</text>
<text transform="translate(66.9,485.00) rotate(-90) scale(0.6970,1)" font-size="9.6" fill="#222" stroke="#222" stroke-width="0.38" text-anchor="middle">Overall survival (%)</text>
<text x="113.2" y="538.70" font-size="7.2" fill="#333" stroke="#333" stroke-width="0.1"><tspan font-style="italic">P</tspan> &lt; .0001</text>
<path d="M109.50,410.40 L113.00,413.00 L118.00,416.50 L123.50,419.40 L136.00,423.60 L138.40,428.00 L142.00,432.70 L146.50,436.40 L149.00,441.00 L153.00,445.20 L156.50,449.20 L161.00,450.40 L162.30,454.40 L176.50,454.40 L176.60,458.80 L197.70,458.80 L197.80,464.60 L378.80,464.60" fill="none" stroke="#c42a46" stroke-width="1.15" stroke-linejoin="round" stroke-dasharray="3.8,3.8"/>
<path d="M210.00,463.20V466.00M224.00,463.20V466.00M238.00,463.20V466.00M252.00,463.20V466.00M266.00,463.20V466.00M280.00,463.20V466.00M294.00,463.20V466.00M308.00,463.20V466.00M322.00,463.20V466.00M336.00,463.20V466.00M350.00,463.20V466.00M364.00,463.20V466.00M378.00,463.20V466.00" stroke="#c42a46" stroke-width="0.7" fill="none"/>
<path d="M109.50,410.40H123.50V419.10H146.00V427.80H152.70V436.50H172.30V445.20H190.00V455.40H243.60V472.50H367.60V472.50" fill="none" stroke="#48265f" stroke-width="1.15" stroke-dasharray="3.8,3.8"/>
<path d="M250.00,471.10V473.90M268.00,471.10V473.90M286.00,471.10V473.90M304.00,471.10V473.90M322.00,471.10V473.90M340.00,471.10V473.90M358.00,471.10V473.90" stroke="#48265f" stroke-width="0.7" fill="none"/>
<path d="M109.50,410.40H113.00V413.60H118.00V416.80H128.00V420.00H135.00V423.20H156.30V426.40H157.00V429.60H157.70V432.80H158.40V436.00H166.00V439.20H172.70V443.40H178.00V447.00H184.20V451.20H195.00V455.00H203.50V458.00H245.00V467.00H267.70V476.00H358.90V476.00" fill="none" stroke="#2a568a" stroke-width="1.15" stroke-dasharray="3.8,3.8"/>
<path d="M200.00,453.60V456.40M215.00,456.60V459.40M230.00,456.60V459.40M245.00,465.60V468.40M260.00,465.60V468.40M275.00,474.60V477.40M290.00,474.60V477.40M305.00,474.60V477.40M320.00,474.60V477.40M335.00,474.60V477.40M350.00,474.60V477.40" stroke="#2a568a" stroke-width="0.7" fill="none"/>
<path d="M109.50,410.40 L113.10,412.80 L121.20,416.80 L128.30,422.10 L132.30,425.00 L138.10,428.50 L142.70,433.10 L147.30,435.40 L153.10,437.10 L158.80,440.00 L164.60,443.40 L170.40,446.90 L174.60,447.80 L184.20,450.20 L193.80,452.10 L203.50,455.00 L213.10,456.90 L222.70,459.80 L232.30,461.70 L241.90,464.60 L259.00,464.70 L262.50,469.00 L302.30,469.00 L314.40,480.30 L405.80,480.60" fill="none" stroke="#4cb44c" stroke-width="1.15" stroke-linejoin="round" stroke-dasharray="3.8,3.8"/>
<path d="M175.00,446.60V449.20M182.00,448.35V450.95M189.00,449.85V452.45M196.00,451.46V454.06M203.00,453.55V456.15M210.00,454.99V457.59M217.00,456.78V459.38M224.00,458.76V461.36M231.00,460.14V462.74M238.00,462.12V464.72M245.00,463.32V465.92M252.00,463.36V465.96M259.00,463.40V466.00M266.00,467.70V470.30M273.00,467.70V470.30M280.00,467.70V470.30M287.00,467.70V470.30M294.00,467.70V470.30M301.00,467.70V470.30M308.00,473.02V475.62M315.00,479.00V481.60M322.00,479.02V481.62M329.00,479.05V481.65M336.00,479.07V481.67M343.00,479.09V481.69M350.00,479.12V481.72M357.00,479.14V481.74M364.00,479.16V481.76M371.00,479.19V481.79M378.00,479.21V481.81M385.00,479.23V481.83M392.00,479.25V481.85M399.00,479.28V481.88" stroke="#4cb44c" stroke-width="0.7" fill="none"/>
<path d="M109.50,410.40H122.00V411.30H134.00V413.10H140.00V416.00H149.00V418.20H156.00V420.30H165.00V421.80H175.00V423.30H182.00V429.00H231.30V433.00H320.10V450.60H391.50V450.60" fill="none" stroke="#48265f" stroke-width="1.15"/>
<path d="M240.00,431.60V434.40M254.00,431.60V434.40M268.00,431.60V434.40M282.00,431.60V434.40M296.00,431.60V434.40M310.00,431.60V434.40M324.00,449.20V452.00M338.00,449.20V452.00M352.00,449.20V452.00M366.00,449.20V452.00M380.00,449.20V452.00" stroke="#48265f" stroke-width="0.7" fill="none"/>
<path d="M109.50,410.40 L122.30,411.30 L133.80,413.10 L139.60,416.00 L148.80,418.20 L155.80,420.30 L165.00,421.80 L174.60,423.30 L184.20,424.30 L193.80,425.20 L203.50,427.10 L213.10,428.10 L232.30,429.00 L265.00,430.30 L298.90,430.60 L299.00,434.00 L393.20,434.00" fill="none" stroke="#2a568a" stroke-width="1.15" stroke-linejoin="round"/>
<path d="M170.00,421.18V423.98M174.50,421.88V424.68M179.00,422.36V425.16M183.50,422.83V425.63M188.00,423.26V426.06M192.50,423.68V426.48M197.00,424.43V427.23M201.50,425.31V428.11M206.00,425.96V428.76M210.50,426.43V429.23M215.00,426.79V429.59M219.50,427.00V429.80M224.00,427.21V430.01M228.50,427.42V430.22M233.00,427.63V430.43M237.50,427.81V430.61M242.00,427.99V430.79M246.50,428.16V430.96M251.00,428.34V431.14M255.50,428.52V431.32M260.00,428.70V431.50M264.50,428.88V431.68M269.00,428.94V431.74M273.50,428.98V431.78M278.00,429.02V431.82M282.50,429.05V431.85M287.00,429.09V431.89M291.50,429.13V431.93M296.00,429.17V431.97M300.50,432.60V435.40M305.00,432.60V435.40M309.50,432.60V435.40M314.00,432.60V435.40M318.50,432.60V435.40M323.00,432.60V435.40M327.50,432.60V435.40M332.00,432.60V435.40M336.50,432.60V435.40M341.00,432.60V435.40M345.50,432.60V435.40M350.00,432.60V435.40M354.50,432.60V435.40M359.00,432.60V435.40M363.50,432.60V435.40M368.00,432.60V435.40M372.50,432.60V435.40M377.00,432.60V435.40M381.50,432.60V435.40M386.00,432.60V435.40M390.50,432.60V435.40" stroke="#2a568a" stroke-width="0.8" fill="none"/>
<path d="M109.50,410.40 L116.50,412.50 L128.00,416.00 L139.60,418.80 L151.10,421.10 L165.00,424.00 L175.00,426.50 L184.20,428.50 L203.50,430.80 L222.70,432.60 L242.00,434.30 L255.00,435.20 L278.50,437.00 L309.00,438.60 L320.40,439.40 L334.00,441.60 L342.00,444.30 L347.40,447.00 L352.00,447.60 L406.70,447.60" fill="none" stroke="#3fb03f" stroke-width="1.8" stroke-linejoin="round"/>
<path d="M140.00,417.38V420.38M142.60,417.90V420.90M145.20,418.42V421.42M147.80,418.94V421.94M150.40,419.46V422.46M153.00,420.00V423.00M155.60,420.54V423.54M158.20,421.08V424.08M160.80,421.62V424.62M163.40,422.17V425.17M166.00,422.75V425.75M168.60,423.40V426.40M171.20,424.05V427.05M173.80,424.70V427.70M176.40,425.30V428.30M179.00,425.87V428.87M181.60,426.43V429.43M184.20,427.00V430.00M186.80,427.31V430.31M189.40,427.62V430.62M192.00,427.93V430.93M194.60,428.24V431.24M197.20,428.55V431.55M199.80,428.86V431.86M202.40,429.17V432.17M205.00,429.44V432.44M207.60,429.68V432.68M210.20,429.93V432.93M212.80,430.17V433.17M215.40,430.42V433.42M218.00,430.66V433.66M220.60,430.90V433.90M223.20,431.14V434.14M225.80,431.37V434.37M228.40,431.60V434.60M231.00,431.83V434.83M233.60,432.06V435.06M236.20,432.29V435.29M238.80,432.52V435.52M241.40,432.75V435.75M244.00,432.94V435.94M246.60,433.12V436.12M249.20,433.30V436.30M251.80,433.48V436.48M254.40,433.66V436.66M257.00,433.85V436.85M259.60,434.05V437.05M262.20,434.25V437.25M264.80,434.45V437.45M267.40,434.65V437.65M270.00,434.85V437.85M272.60,435.05V438.05M275.20,435.25V438.25M277.80,435.45V438.45M280.40,435.60V438.60M283.00,435.74V438.74M285.60,435.87V438.87M288.20,436.01V439.01M290.80,436.15V439.15M293.40,436.28V439.28M296.00,436.42V439.42M298.60,436.55V439.55M301.20,436.69V439.69M303.80,436.83V439.83M306.40,436.96V439.96M309.00,437.10V440.10M311.60,437.28V440.28M314.20,437.46V440.46M316.80,437.65V440.65M319.40,437.83V440.83M322.00,438.16V441.16M324.60,438.58V441.58M327.20,439.00V442.00M329.80,439.42V442.42M332.40,439.84V442.84M335.00,440.44V443.44M337.60,441.32V444.32M340.20,442.19V445.19M342.80,443.20V446.20M345.40,444.50V447.50M348.00,445.58V448.58M350.60,445.92V448.92M353.20,446.10V449.10M355.80,446.10V449.10M358.40,446.10V449.10M361.00,446.10V449.10M363.60,446.10V449.10M366.20,446.10V449.10M368.80,446.10V449.10M371.40,446.10V449.10M374.00,446.10V449.10M376.60,446.10V449.10M379.20,446.10V449.10M381.80,446.10V449.10M384.40,446.10V449.10M387.00,446.10V449.10M389.60,446.10V449.10M392.20,446.10V449.10M394.80,446.10V449.10M397.40,446.10V449.10M400.00,446.10V449.10M402.60,446.10V449.10M405.20,446.10V449.10" stroke="#36a03a" stroke-width="0.8" fill="none"/>
<path d="M109.50,410.40H122.30V410.80H132.70V411.30H139.60V413.60H143.00V414.20H153.40V414.20H155.80V416.00H183.30V416.50H184.20V418.50H201.50V418.80H203.50V420.40H222.70V421.30H224.60V423.30H233.30V423.80H236.20V429.00H280.40V432.90H410.60V432.90" fill="none" stroke="#b01f3e" stroke-width="1.15"/>
<path d="M180.00,414.60V417.40M189.00,417.10V419.90M198.00,417.10V419.90M207.00,419.00V421.80M216.00,419.00V421.80M225.00,421.90V424.70M234.00,422.40V425.20M243.00,427.60V430.40M252.00,427.60V430.40M261.00,427.60V430.40M270.00,427.60V430.40M279.00,427.60V430.40M288.00,431.50V434.30M297.00,431.50V434.30M306.00,431.50V434.30M315.00,431.50V434.30M324.00,431.50V434.30M333.00,431.50V434.30M342.00,431.50V434.30M351.00,431.50V434.30M360.00,431.50V434.30M369.00,431.50V434.30M378.00,431.50V434.30M387.00,431.50V434.30M396.00,431.50V434.30M405.00,431.50V434.30" stroke="#b01f3e" stroke-width="0.8" fill="none"/>
<path d="M427.6,407.80H434" stroke="#4f7f4f" stroke-width="1.1"/><path d="M430.8,406.60V409.00" stroke="#4f7f4f" stroke-width="0.6"/>
<text x="437.90" y="409.80" font-size="7.1" fill="#222" stroke="#222" stroke-width="0.16" text-anchor="start" >White Eligible</text>
<path d="M427.6,419.37H434" stroke="#8a2a45" stroke-width="1.1"/><path d="M430.8,418.17V420.57" stroke="#8a2a45" stroke-width="0.6"/>
<text x="437.90" y="421.37" font-size="7.1" fill="#222" stroke="#222" stroke-width="0.16" text-anchor="start" >Black/AA Eligible</text>
<path d="M427.6,430.94H434" stroke="#2a3f5f" stroke-width="1.1"/><path d="M430.8,429.74V432.14" stroke="#2a3f5f" stroke-width="0.6"/>
<text x="437.90" y="432.94" font-size="7.1" fill="#222" stroke="#222" stroke-width="0.16" text-anchor="start" >Hispanic Eligible</text>
<path d="M427.6,442.51H434" stroke="#523a68" stroke-width="1.1"/><path d="M430.8,441.31V443.71" stroke="#523a68" stroke-width="0.6"/>
<text x="437.90" y="444.51" font-size="7.1" fill="#222" stroke="#222" stroke-width="0.16" text-anchor="start" >Other Minority Eligible</text>
<path d="M427.6,454.08H434" stroke="#4f7f4f" stroke-width="1.1"/><path d="M430.8,452.88V455.28" stroke="#4f7f4f" stroke-width="0.6"/>
<text x="437.90" y="456.08" font-size="7.1" fill="#222" stroke="#222" stroke-width="0.16" text-anchor="start" >White Ineligible</text>
<path d="M427.6,465.65H434" stroke="#8a2a45" stroke-width="1.1"/><path d="M430.8,464.45V466.85" stroke="#8a2a45" stroke-width="0.6"/>
<text x="437.90" y="467.65" font-size="7.1" fill="#222" stroke="#222" stroke-width="0.16" text-anchor="start" >Black/AA Ineligible</text>
<path d="M427.6,477.22H434" stroke="#2a3f5f" stroke-width="1.1"/><path d="M430.8,476.02V478.42" stroke="#2a3f5f" stroke-width="0.6"/>
<text x="437.90" y="479.22" font-size="7.1" fill="#222" stroke="#222" stroke-width="0.16" text-anchor="start" >Hispanic Ineligible</text>
<path d="M427.6,488.79H434" stroke="#523a68" stroke-width="1.1"/><path d="M430.8,487.59V489.99" stroke="#523a68" stroke-width="0.6"/>
<text x="437.90" y="490.79" font-size="7.1" fill="#222" stroke="#222" stroke-width="0.16" text-anchor="start" >Other Minority Ineligible</text>
<text x="94.70" y="605.80" font-size="7.0" fill="#333" stroke="#333" stroke-width="0.06" text-anchor="start" >Number at risk</text>
<text x="95.80" y="618.00" font-size="7.1" fill="#5aab5a" stroke="#5aab5a" stroke-width="0.06" text-anchor="end" >White Eligible</text>
<text x="109.20" y="618.15" font-size="7.5" fill="#5aab5a" stroke="#5aab5a" stroke-width="0" text-anchor="middle" >1404</text>
<text x="151.60" y="618.15" font-size="7.5" fill="#5aab5a" stroke="#5aab5a" stroke-width="0" text-anchor="middle" >1245</text>
<text x="194.00" y="618.15" font-size="7.5" fill="#5aab5a" stroke="#5aab5a" stroke-width="0" text-anchor="middle" >1045</text>
<text x="236.40" y="618.15" font-size="7.5" fill="#5aab5a" stroke="#5aab5a" stroke-width="0" text-anchor="middle" >689</text>
<text x="278.80" y="618.15" font-size="7.5" fill="#5aab5a" stroke="#5aab5a" stroke-width="0" text-anchor="middle" >461</text>
<text x="321.20" y="618.15" font-size="7.5" fill="#5aab5a" stroke="#5aab5a" stroke-width="0" text-anchor="middle" >244</text>
<text x="363.60" y="618.15" font-size="7.5" fill="#5aab5a" stroke="#5aab5a" stroke-width="0" text-anchor="middle" >52</text>
<text x="406.00" y="618.15" font-size="7.5" fill="#5aab5a" stroke="#5aab5a" stroke-width="0" text-anchor="middle" >3</text>
<text x="95.80" y="627.87" font-size="7.1" fill="#b92648" stroke="#b92648" stroke-width="0.06" text-anchor="end" >Black/AA Eligible</text>
<text x="109.20" y="628.02" font-size="7.5" fill="#b92648" stroke="#b92648" stroke-width="0" text-anchor="middle" >121</text>
<text x="151.60" y="628.02" font-size="7.5" fill="#b92648" stroke="#b92648" stroke-width="0" text-anchor="middle" >109</text>
<text x="194.00" y="628.02" font-size="7.5" fill="#b92648" stroke="#b92648" stroke-width="0" text-anchor="middle" >92</text>
<text x="236.40" y="628.02" font-size="7.5" fill="#b92648" stroke="#b92648" stroke-width="0" text-anchor="middle" >49</text>
<text x="278.80" y="628.02" font-size="7.5" fill="#b92648" stroke="#b92648" stroke-width="0" text-anchor="middle" >31</text>
<text x="321.20" y="628.02" font-size="7.5" fill="#b92648" stroke="#b92648" stroke-width="0" text-anchor="middle" >14</text>
<text x="363.60" y="628.02" font-size="7.5" fill="#b92648" stroke="#b92648" stroke-width="0" text-anchor="middle" >5</text>
<text x="406.00" y="628.02" font-size="7.5" fill="#b92648" stroke="#b92648" stroke-width="0" text-anchor="middle" >1</text>
<text x="95.80" y="637.74" font-size="7.1" fill="#345e8c" stroke="#345e8c" stroke-width="0.06" text-anchor="end" >Hispanic Eligible</text>
<text x="109.20" y="637.89" font-size="7.5" fill="#345e8c" stroke="#345e8c" stroke-width="0" text-anchor="middle" >241</text>
<text x="151.60" y="637.89" font-size="7.5" fill="#345e8c" stroke="#345e8c" stroke-width="0" text-anchor="middle" >208</text>
<text x="194.00" y="637.89" font-size="7.5" fill="#345e8c" stroke="#345e8c" stroke-width="0" text-anchor="middle" >170</text>
<text x="236.40" y="637.89" font-size="7.5" fill="#345e8c" stroke="#345e8c" stroke-width="0" text-anchor="middle" >108</text>
<text x="278.80" y="637.89" font-size="7.5" fill="#345e8c" stroke="#345e8c" stroke-width="0" text-anchor="middle" >67</text>
<text x="321.20" y="637.89" font-size="7.5" fill="#345e8c" stroke="#345e8c" stroke-width="0" text-anchor="middle" >24</text>
<text x="363.60" y="637.89" font-size="7.5" fill="#345e8c" stroke="#345e8c" stroke-width="0" text-anchor="middle" >3</text>
<text x="406.00" y="637.89" font-size="7.5" fill="#345e8c" stroke="#345e8c" stroke-width="0" text-anchor="middle" >0</text>
<text x="95.80" y="647.61" font-size="7.1" fill="#51406f" stroke="#51406f" stroke-width="0.06" text-anchor="end" >Other Minority Eligible</text>
<text x="109.20" y="647.76" font-size="7.5" fill="#51406f" stroke="#51406f" stroke-width="0" text-anchor="middle" >59</text>
<text x="151.60" y="647.76" font-size="7.5" fill="#51406f" stroke="#51406f" stroke-width="0" text-anchor="middle" >44</text>
<text x="194.00" y="647.76" font-size="7.5" fill="#51406f" stroke="#51406f" stroke-width="0" text-anchor="middle" >33</text>
<text x="236.40" y="647.76" font-size="7.5" fill="#51406f" stroke="#51406f" stroke-width="0" text-anchor="middle" >19</text>
<text x="278.80" y="647.76" font-size="7.5" fill="#51406f" stroke="#51406f" stroke-width="0" text-anchor="middle" >11</text>
<text x="321.20" y="647.76" font-size="7.5" fill="#51406f" stroke="#51406f" stroke-width="0" text-anchor="middle" >7</text>
<text x="363.60" y="647.76" font-size="7.5" fill="#51406f" stroke="#51406f" stroke-width="0" text-anchor="middle" >1</text>
<text x="406.00" y="647.76" font-size="7.5" fill="#51406f" stroke="#51406f" stroke-width="0" text-anchor="middle" >0</text>
<text x="95.80" y="657.48" font-size="7.1" fill="#5aab5a" stroke="#5aab5a" stroke-width="0.06" text-anchor="end" >White Ineligible</text>
<text x="109.20" y="657.63" font-size="7.5" fill="#5aab5a" stroke="#5aab5a" stroke-width="0" text-anchor="middle" >262</text>
<text x="151.60" y="657.63" font-size="7.5" fill="#5aab5a" stroke="#5aab5a" stroke-width="0" text-anchor="middle" >205</text>
<text x="194.00" y="657.63" font-size="7.5" fill="#5aab5a" stroke="#5aab5a" stroke-width="0" text-anchor="middle" >156</text>
<text x="236.40" y="657.63" font-size="7.5" fill="#5aab5a" stroke="#5aab5a" stroke-width="0" text-anchor="middle" >97</text>
<text x="278.80" y="657.63" font-size="7.5" fill="#5aab5a" stroke="#5aab5a" stroke-width="0" text-anchor="middle" >56</text>
<text x="321.20" y="657.63" font-size="7.5" fill="#5aab5a" stroke="#5aab5a" stroke-width="0" text-anchor="middle" >19</text>
<text x="363.60" y="657.63" font-size="7.5" fill="#5aab5a" stroke="#5aab5a" stroke-width="0" text-anchor="middle" >5</text>
<text x="406.00" y="657.63" font-size="7.5" fill="#5aab5a" stroke="#5aab5a" stroke-width="0" text-anchor="middle" >0</text>
<text x="95.80" y="667.35" font-size="7.1" fill="#b92648" stroke="#b92648" stroke-width="0.06" text-anchor="end" >Black/AA Ineligible</text>
<text x="109.20" y="667.50" font-size="7.5" fill="#b92648" stroke="#b92648" stroke-width="0" text-anchor="middle" >34</text>
<text x="151.60" y="667.50" font-size="7.5" fill="#b92648" stroke="#b92648" stroke-width="0" text-anchor="middle" >26</text>
<text x="194.00" y="667.50" font-size="7.5" fill="#b92648" stroke="#b92648" stroke-width="0" text-anchor="middle" >19</text>
<text x="236.40" y="667.50" font-size="7.5" fill="#b92648" stroke="#b92648" stroke-width="0" text-anchor="middle" >14</text>
<text x="278.80" y="667.50" font-size="7.5" fill="#b92648" stroke="#b92648" stroke-width="0" text-anchor="middle" >7</text>
<text x="321.20" y="667.50" font-size="7.5" fill="#b92648" stroke="#b92648" stroke-width="0" text-anchor="middle" >6</text>
<text x="363.60" y="667.50" font-size="7.5" fill="#b92648" stroke="#b92648" stroke-width="0" text-anchor="middle" >4</text>
<text x="406.00" y="667.50" font-size="7.5" fill="#b92648" stroke="#b92648" stroke-width="0" text-anchor="middle" >0</text>
<text x="95.80" y="677.22" font-size="7.1" fill="#345e8c" stroke="#345e8c" stroke-width="0.06" text-anchor="end" >Hispanic Ineligible</text>
<text x="109.20" y="677.37" font-size="7.5" fill="#345e8c" stroke="#345e8c" stroke-width="0" text-anchor="middle" >47</text>
<text x="151.60" y="677.37" font-size="7.5" fill="#345e8c" stroke="#345e8c" stroke-width="0" text-anchor="middle" >40</text>
<text x="194.00" y="677.37" font-size="7.5" fill="#345e8c" stroke="#345e8c" stroke-width="0" text-anchor="middle" >27</text>
<text x="236.40" y="677.37" font-size="7.5" fill="#345e8c" stroke="#345e8c" stroke-width="0" text-anchor="middle" >13</text>
<text x="278.80" y="677.37" font-size="7.5" fill="#345e8c" stroke="#345e8c" stroke-width="0" text-anchor="middle" >7</text>
<text x="321.20" y="677.37" font-size="7.5" fill="#345e8c" stroke="#345e8c" stroke-width="0" text-anchor="middle" >3</text>
<text x="363.60" y="677.37" font-size="7.5" fill="#345e8c" stroke="#345e8c" stroke-width="0" text-anchor="middle" >0</text>
<text x="406.00" y="677.37" font-size="7.5" fill="#345e8c" stroke="#345e8c" stroke-width="0" text-anchor="middle" >0</text>
<text x="95.80" y="687.09" font-size="7.1" fill="#51406f" stroke="#51406f" stroke-width="0.06" text-anchor="end" >Other Minority Ineligible</text>
<text x="109.20" y="687.24" font-size="7.5" fill="#51406f" stroke="#51406f" stroke-width="0" text-anchor="middle" >17</text>
<text x="151.60" y="687.24" font-size="7.5" fill="#51406f" stroke="#51406f" stroke-width="0" text-anchor="middle" >15</text>
<text x="194.00" y="687.24" font-size="7.5" fill="#51406f" stroke="#51406f" stroke-width="0" text-anchor="middle" >11</text>
<text x="236.40" y="687.24" font-size="7.5" fill="#51406f" stroke="#51406f" stroke-width="0" text-anchor="middle" >6</text>
<text x="278.80" y="687.24" font-size="7.5" fill="#51406f" stroke="#51406f" stroke-width="0" text-anchor="middle" >2</text>
<text x="321.20" y="687.24" font-size="7.5" fill="#51406f" stroke="#51406f" stroke-width="0" text-anchor="middle" >1</text>
<text x="363.60" y="687.24" font-size="7.5" fill="#51406f" stroke="#51406f" stroke-width="0" text-anchor="middle" >1</text>
<text x="406.00" y="687.24" font-size="7.5" fill="#51406f" stroke="#51406f" stroke-width="0" text-anchor="middle" >0</text>
<text x="94.70" y="698.70" font-size="6.95" fill="#333" stroke="#333" stroke-width="0.06" text-anchor="start" >Cumulative number of events</text>
<text x="95.80" y="710.30" font-size="7.1" fill="#5aab5a" stroke="#5aab5a" stroke-width="0.06" text-anchor="end" >White Eligible</text>
<text x="109.20" y="710.45" font-size="7.5" fill="#5aab5a" stroke="#5aab5a" stroke-width="0" text-anchor="middle" >0</text>
<text x="151.60" y="710.45" font-size="7.5" fill="#5aab5a" stroke="#5aab5a" stroke-width="0" text-anchor="middle" >109</text>
<text x="194.00" y="710.45" font-size="7.5" fill="#5aab5a" stroke="#5aab5a" stroke-width="0" text-anchor="middle" >170</text>
<text x="236.40" y="710.45" font-size="7.5" fill="#5aab5a" stroke="#5aab5a" stroke-width="0" text-anchor="middle" >209</text>
<text x="278.80" y="710.45" font-size="7.5" fill="#5aab5a" stroke="#5aab5a" stroke-width="0" text-anchor="middle" >221</text>
<text x="321.20" y="710.45" font-size="7.5" fill="#5aab5a" stroke="#5aab5a" stroke-width="0" text-anchor="middle" >230</text>
<text x="363.60" y="710.45" font-size="7.5" fill="#5aab5a" stroke="#5aab5a" stroke-width="0" text-anchor="middle" >241</text>
<text x="406.00" y="710.45" font-size="7.5" fill="#5aab5a" stroke="#5aab5a" stroke-width="0" text-anchor="middle" >241</text>
<text x="95.80" y="720.17" font-size="7.1" fill="#b92648" stroke="#b92648" stroke-width="0.06" text-anchor="end" >Black/AA Eligible</text>
<text x="109.20" y="720.32" font-size="7.5" fill="#b92648" stroke="#b92648" stroke-width="0" text-anchor="middle" >0</text>
<text x="151.60" y="720.32" font-size="7.5" fill="#b92648" stroke="#b92648" stroke-width="0" text-anchor="middle" >3</text>
<text x="194.00" y="720.32" font-size="7.5" fill="#b92648" stroke="#b92648" stroke-width="0" text-anchor="middle" >7</text>
<text x="236.40" y="720.32" font-size="7.5" fill="#b92648" stroke="#b92648" stroke-width="0" text-anchor="middle" >11</text>
<text x="278.80" y="720.32" font-size="7.5" fill="#b92648" stroke="#b92648" stroke-width="0" text-anchor="middle" >11</text>
<text x="321.20" y="720.32" font-size="7.5" fill="#b92648" stroke="#b92648" stroke-width="0" text-anchor="middle" >12</text>
<text x="363.60" y="720.32" font-size="7.5" fill="#b92648" stroke="#b92648" stroke-width="0" text-anchor="middle" >12</text>
<text x="406.00" y="720.32" font-size="7.5" fill="#b92648" stroke="#b92648" stroke-width="0" text-anchor="middle" >12</text>
<text x="95.80" y="730.04" font-size="7.1" fill="#345e8c" stroke="#345e8c" stroke-width="0.06" text-anchor="end" >Hispanic Eligible</text>
<text x="109.20" y="730.19" font-size="7.5" fill="#345e8c" stroke="#345e8c" stroke-width="0" text-anchor="middle" >0</text>
<text x="151.60" y="730.19" font-size="7.5" fill="#345e8c" stroke="#345e8c" stroke-width="0" text-anchor="middle" >14</text>
<text x="194.00" y="730.19" font-size="7.5" fill="#345e8c" stroke="#345e8c" stroke-width="0" text-anchor="middle" >22</text>
<text x="236.40" y="730.19" font-size="7.5" fill="#345e8c" stroke="#345e8c" stroke-width="0" text-anchor="middle" >27</text>
<text x="278.80" y="730.19" font-size="7.5" fill="#345e8c" stroke="#345e8c" stroke-width="0" text-anchor="middle" >29</text>
<text x="321.20" y="730.19" font-size="7.5" fill="#345e8c" stroke="#345e8c" stroke-width="0" text-anchor="middle" >30</text>
<text x="363.60" y="730.19" font-size="7.5" fill="#345e8c" stroke="#345e8c" stroke-width="0" text-anchor="middle" >30</text>
<text x="406.00" y="730.19" font-size="7.5" fill="#345e8c" stroke="#345e8c" stroke-width="0" text-anchor="middle" >30</text>
<text x="95.80" y="739.91" font-size="7.1" fill="#51406f" stroke="#51406f" stroke-width="0.06" text-anchor="end" >Other Minority Eligible</text>
<text x="109.20" y="740.06" font-size="7.5" fill="#51406f" stroke="#51406f" stroke-width="0" text-anchor="middle" >0</text>
<text x="151.60" y="740.06" font-size="7.5" fill="#51406f" stroke="#51406f" stroke-width="0" text-anchor="middle" >3</text>
<text x="194.00" y="740.06" font-size="7.5" fill="#51406f" stroke="#51406f" stroke-width="0" text-anchor="middle" >6</text>
<text x="236.40" y="740.06" font-size="7.5" fill="#51406f" stroke="#51406f" stroke-width="0" text-anchor="middle" >7</text>
<text x="278.80" y="740.06" font-size="7.5" fill="#51406f" stroke="#51406f" stroke-width="0" text-anchor="middle" >7</text>
<text x="321.20" y="740.06" font-size="7.5" fill="#51406f" stroke="#51406f" stroke-width="0" text-anchor="middle" >8</text>
<text x="363.60" y="740.06" font-size="7.5" fill="#51406f" stroke="#51406f" stroke-width="0" text-anchor="middle" >8</text>
<text x="406.00" y="740.06" font-size="7.5" fill="#51406f" stroke="#51406f" stroke-width="0" text-anchor="middle" >8</text>
<text x="95.80" y="749.78" font-size="7.1" fill="#5aab5a" stroke="#5aab5a" stroke-width="0.06" text-anchor="end" >White Ineligible</text>
<text x="109.20" y="749.93" font-size="7.5" fill="#5aab5a" stroke="#5aab5a" stroke-width="0" text-anchor="middle" >0</text>
<text x="151.60" y="749.93" font-size="7.5" fill="#5aab5a" stroke="#5aab5a" stroke-width="0" text-anchor="middle" >46</text>
<text x="194.00" y="749.93" font-size="7.5" fill="#5aab5a" stroke="#5aab5a" stroke-width="0" text-anchor="middle" >71</text>
<text x="236.40" y="749.93" font-size="7.5" fill="#5aab5a" stroke="#5aab5a" stroke-width="0" text-anchor="middle" >86</text>
<text x="278.80" y="749.93" font-size="7.5" fill="#5aab5a" stroke="#5aab5a" stroke-width="0" text-anchor="middle" >91</text>
<text x="321.20" y="749.93" font-size="7.5" fill="#5aab5a" stroke="#5aab5a" stroke-width="0" text-anchor="middle" >95</text>
<text x="363.60" y="749.93" font-size="7.5" fill="#5aab5a" stroke="#5aab5a" stroke-width="0" text-anchor="middle" >95</text>
<text x="406.00" y="749.93" font-size="7.5" fill="#5aab5a" stroke="#5aab5a" stroke-width="0" text-anchor="middle" >95</text>
<text x="95.80" y="759.65" font-size="7.1" fill="#b92648" stroke="#b92648" stroke-width="0.06" text-anchor="end" >Black/AA Ineligible</text>
<text x="109.20" y="759.80" font-size="7.5" fill="#b92648" stroke="#b92648" stroke-width="0" text-anchor="middle" >0</text>
<text x="151.60" y="759.80" font-size="7.5" fill="#b92648" stroke="#b92648" stroke-width="0" text-anchor="middle" >8</text>
<text x="194.00" y="759.80" font-size="7.5" fill="#b92648" stroke="#b92648" stroke-width="0" text-anchor="middle" >11</text>
<text x="236.40" y="759.80" font-size="7.5" fill="#b92648" stroke="#b92648" stroke-width="0" text-anchor="middle" >12</text>
<text x="278.80" y="759.80" font-size="7.5" fill="#b92648" stroke="#b92648" stroke-width="0" text-anchor="middle" >12</text>
<text x="321.20" y="759.80" font-size="7.5" fill="#b92648" stroke="#b92648" stroke-width="0" text-anchor="middle" >12</text>
<text x="363.60" y="759.80" font-size="7.5" fill="#b92648" stroke="#b92648" stroke-width="0" text-anchor="middle" >12</text>
<text x="406.00" y="759.80" font-size="7.5" fill="#b92648" stroke="#b92648" stroke-width="0" text-anchor="middle" >12</text>
<text x="95.80" y="769.52" font-size="7.1" fill="#345e8c" stroke="#345e8c" stroke-width="0.06" text-anchor="end" >Hispanic Ineligible</text>
<text x="109.20" y="769.67" font-size="7.5" fill="#345e8c" stroke="#345e8c" stroke-width="0" text-anchor="middle" >0</text>
<text x="151.60" y="769.67" font-size="7.5" fill="#345e8c" stroke="#345e8c" stroke-width="0" text-anchor="middle" >4</text>
<text x="194.00" y="769.67" font-size="7.5" fill="#345e8c" stroke="#345e8c" stroke-width="0" text-anchor="middle" >13</text>
<text x="236.40" y="769.67" font-size="7.5" fill="#345e8c" stroke="#345e8c" stroke-width="0" text-anchor="middle" >15</text>
<text x="278.80" y="769.67" font-size="7.5" fill="#345e8c" stroke="#345e8c" stroke-width="0" text-anchor="middle" >16</text>
<text x="321.20" y="769.67" font-size="7.5" fill="#345e8c" stroke="#345e8c" stroke-width="0" text-anchor="middle" >16</text>
<text x="363.60" y="769.67" font-size="7.5" fill="#345e8c" stroke="#345e8c" stroke-width="0" text-anchor="middle" >16</text>
<text x="406.00" y="769.67" font-size="7.5" fill="#345e8c" stroke="#345e8c" stroke-width="0" text-anchor="middle" >16</text>
<text x="95.80" y="779.39" font-size="7.1" fill="#51406f" stroke="#51406f" stroke-width="0.06" text-anchor="end" >Other Minority Ineligible</text>
<text x="109.20" y="779.54" font-size="7.5" fill="#51406f" stroke="#51406f" stroke-width="0" text-anchor="middle" >0</text>
<text x="151.60" y="779.54" font-size="7.5" fill="#51406f" stroke="#51406f" stroke-width="0" text-anchor="middle" >2</text>
<text x="194.00" y="779.54" font-size="7.5" fill="#51406f" stroke="#51406f" stroke-width="0" text-anchor="middle" >5</text>
<text x="236.40" y="779.54" font-size="7.5" fill="#51406f" stroke="#51406f" stroke-width="0" text-anchor="middle" >5</text>
<text x="278.80" y="779.54" font-size="7.5" fill="#51406f" stroke="#51406f" stroke-width="0" text-anchor="middle" >6</text>
<text x="321.20" y="779.54" font-size="7.5" fill="#51406f" stroke="#51406f" stroke-width="0" text-anchor="middle" >6</text>
<text x="363.60" y="779.54" font-size="7.5" fill="#51406f" stroke="#51406f" stroke-width="0" text-anchor="middle" >6</text>
<text x="406.00" y="779.54" font-size="7.5" fill="#51406f" stroke="#51406f" stroke-width="0" text-anchor="middle" >6</text>
</svg>
</body></html>
